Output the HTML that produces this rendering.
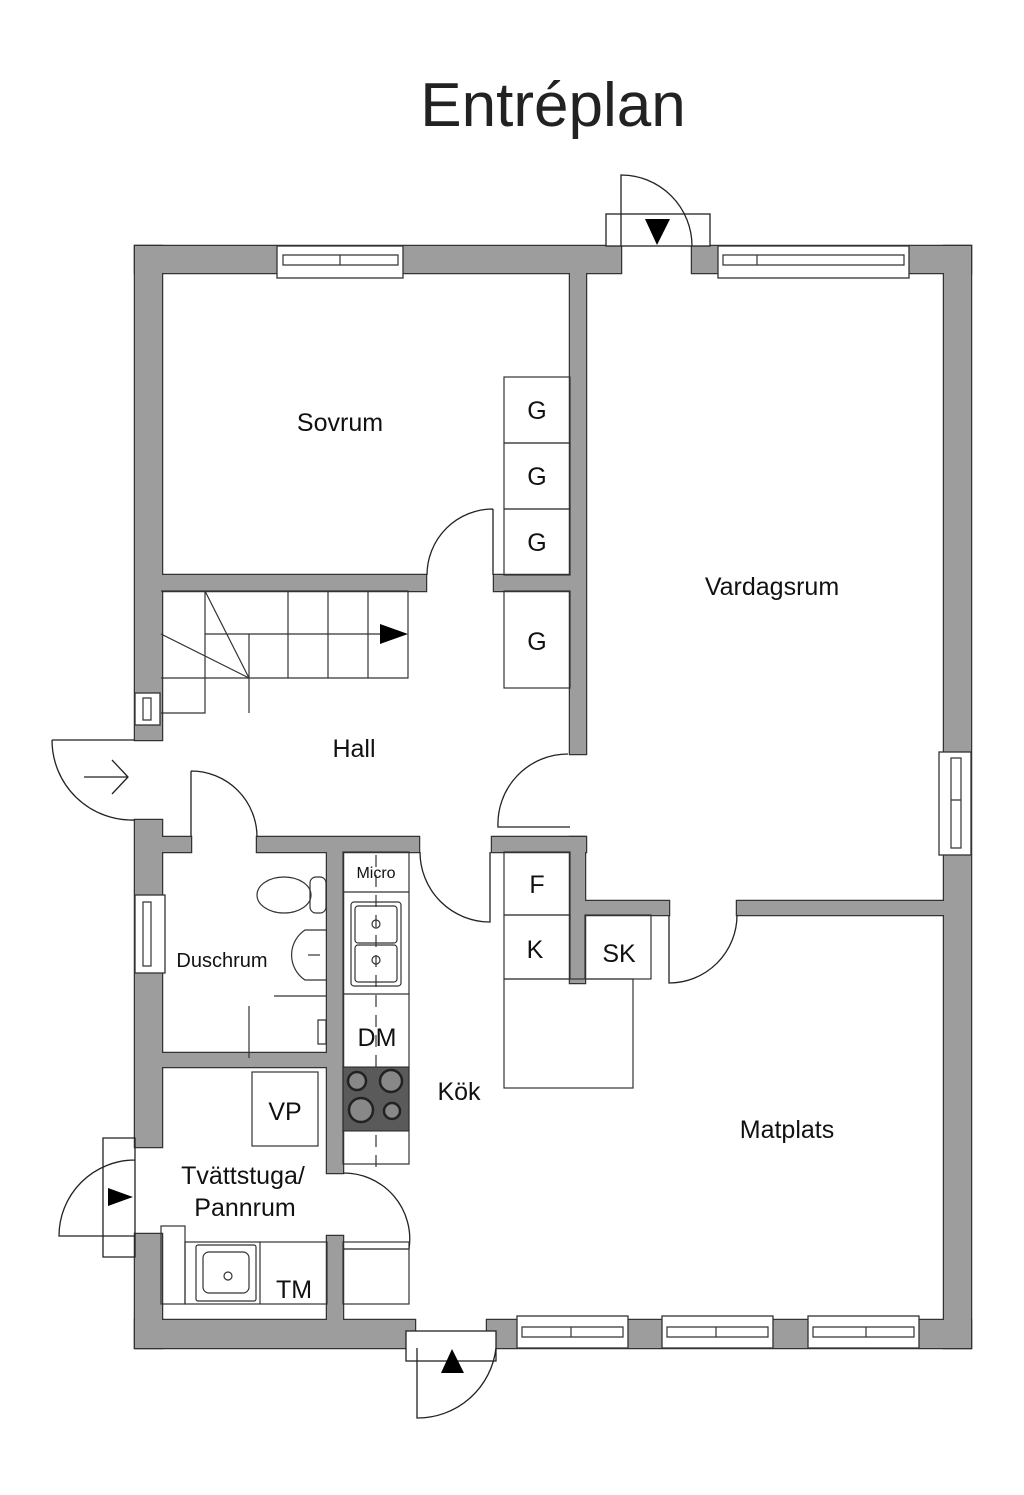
<!DOCTYPE html>
<html><head><meta charset="utf-8"><style>
html,body{margin:0;padding:0;background:#fff;}
svg{display:block;}
text{font-family:"Liberation Sans",sans-serif;fill:#111;}
</style></head><body>
<svg width="1024" height="1495" viewBox="0 0 1024 1495" xmlns="http://www.w3.org/2000/svg">
<defs>
<g id="walls">
<rect x="135" y="246" width="486" height="27"/>
<rect x="692" y="246" width="279" height="27"/>
<rect x="135" y="246" width="27" height="494"/>
<rect x="135" y="820" width="27" height="327"/>
<rect x="135" y="1234" width="27" height="114"/>
<rect x="944" y="246" width="27" height="1102"/>
<rect x="135" y="1320" width="280" height="28"/>
<rect x="487" y="1320" width="484" height="28"/>
<rect x="161" y="575" width="265" height="16"/>
<rect x="494" y="575" width="76" height="16"/>
<rect x="570" y="272" width="16" height="482"/>
<rect x="492" y="837" width="94" height="15"/>
<rect x="570" y="837" width="15" height="146"/>
<rect x="585" y="901" width="84" height="14"/>
<rect x="737" y="901" width="207" height="14"/>
<rect x="161" y="837" width="30" height="15"/>
<rect x="257" y="837" width="162" height="15"/>
<rect x="327" y="850" width="16" height="323"/>
<rect x="161" y="1053" width="166" height="14"/>
<rect x="327" y="1236" width="16" height="84"/>
</g>
</defs>
<text x="553" y="126" font-size="62" text-anchor="middle" style="fill:#222">Entréplan</text>
<use href="#walls" fill="#9d9d9d" stroke="#333" stroke-width="2.5"/>
<use href="#walls" fill="#9d9d9d" stroke="none"/>
<!-- windows -->
<g fill="#fff" stroke="#333" stroke-width="1.3">
<rect x="277" y="246" width="126" height="32"/>
<rect x="718" y="246" width="191" height="32"/>
<rect x="517" y="1316" width="111" height="32"/>
<rect x="662" y="1316" width="111" height="32"/>
<rect x="808" y="1316" width="111" height="32"/>
<rect x="135" y="693" width="25" height="32"/>
<rect x="135" y="895" width="30" height="78"/>
<rect x="939" y="752" width="32" height="103"/>
</g>
<g fill="none" stroke="#333" stroke-width="1.2">
<path d="M283 255h115v10h-115z M340 255v10"/>
<path d="M723 255h181v10h-181z M757 255v10"/>
<path d="M522 1327h101v10h-101z M571 1327v10"/>
<path d="M667 1327h101v10h-101z M716 1327v10"/>
<path d="M813 1327h101v10h-101z M866 1327v10"/>
<path d="M143 698v22h8v-22z"/>
<path d="M143 902v64h8v-64z"/>
<path d="M951 758v90h10v-90z M951 800h10"/>
</g>
<!-- doors -->
<g fill="none" stroke="#222" stroke-width="1.3">
<rect x="606" y="214" width="104" height="32" fill="#fff"/>
<path d="M621 246V175 A71 71 0 0 1 692 246"/>
<path d="M52 740 H135 M52 740 A80 80 0 0 0 135 820"/>
<path d="M103 1138 H135 V1257 H103 Z M135 1160 A76 76 0 0 0 59 1236 H135"/>
<rect x="406" y="1331" width="90" height="30" fill="#fff"/>
<path d="M417 1348 V1418 A79 79 0 0 0 496 1348"/>
<path d="M493 509 V575 M493 509 A66 66 0 0 0 427 575"/>
<path d="M568 754 A70 70 0 0 0 498 827 H570"/>
<path d="M191 771 V837 M191 771 A66 66 0 0 1 257 837"/>
<path d="M420 852 A70 70 0 0 0 490 922 V852"/>
<path d="M343 1173 A66 66 0 0 1 409 1249 H343"/>
<path d="M737 915 A68 68 0 0 1 669 983 V915"/>
<path d="M84 777 H128 M112 760 L128 777 L112 794"/>
</g>
<g fill="#000">
<path d="M645 219 H670 L657 245 Z"/>
<path d="M108 1188 V1206 L133 1197 Z"/>
<path d="M441 1373 H464 L452 1349 Z"/>
<path d="M380 624 V644 L408 634 Z"/>
</g>
<!-- fixtures -->
<g fill="none" stroke="#333" stroke-width="1.2">
<rect x="504" y="377" width="66" height="66"/>
<rect x="504" y="443" width="66" height="66"/>
<rect x="504" y="509" width="66" height="66"/>
<rect x="504" y="591" width="66" height="97"/>
<rect x="504" y="852" width="66" height="63"/>
<rect x="504" y="915" width="66" height="64"/>
<rect x="585" y="915" width="66" height="64"/>
<rect x="504" y="979" width="129" height="109"/>
<path d="M161 591 H408 V678 H161 M205 591 V713 H161 M249 634 V713 M288 591 V678 M328 591 V678 M368 591 V678 M205 634 H380 M249 678 L205 591 M249 678 L161 634"/>
<rect x="343" y="852" width="66" height="312"/>
<path d="M343 892 H409 M343 994 H409 M343 1121 H409"/>
<path d="M376 855 V1175" stroke-dasharray="12 8"/>
<rect x="351" y="902" width="50" height="84" rx="3"/>
<rect x="355" y="906" width="42" height="37" rx="3"/>
<rect x="355" y="945" width="42" height="37" rx="3"/>
<circle cx="376" cy="924" r="4"/><circle cx="376" cy="960" r="4"/>
<rect x="252" y="1072" width="66" height="74"/>
<rect x="161" y="1226" width="24" height="78"/>
<rect x="185" y="1242" width="142" height="62"/>
<path d="M260 1242 V1304"/>
<rect x="196" y="1245" width="60" height="56" rx="2"/>
<rect x="203" y="1252" width="46" height="41" rx="6"/>
<circle cx="228" cy="1276" r="4"/>
<rect x="343" y="1242" width="66" height="62"/>
<ellipse cx="284" cy="895" rx="27" ry="18"/>
<rect x="310" y="877" width="16" height="36" rx="6"/>
<path d="M326 930 H305 A30 30 0 0 0 305 980 H326"/>
<path d="M308 955 H320"/>
<path d="M274 996 H326 M249 1006 V1058"/>
<path d="M318 1020 h8 v24 h-8 z"/>
</g>
<rect x="343" y="1067" width="66" height="64" fill="#5a5a5a" stroke="#222"/>
<g fill="#888" stroke="#222" stroke-width="2.5">
<circle cx="357" cy="1081" r="9"/><circle cx="391" cy="1081" r="11"/>
<circle cx="361" cy="1110" r="12"/><circle cx="392" cy="1111" r="8"/>
</g>
<!-- labels -->
<g font-size="25" text-anchor="middle">
<text x="340" y="431">Sovrum</text>
<text x="772" y="595">Vardagsrum</text>
<text x="354" y="757">Hall</text>
<text x="459" y="1100">Kök</text>
<text x="787" y="1138">Matplats</text>
<text x="243" y="1184">Tvättstuga/</text>
<text x="245" y="1216">Pannrum</text>
<text x="537" y="419">G</text><text x="537" y="485">G</text><text x="537" y="551">G</text><text x="537" y="650">G</text>
<text x="537" y="893">F</text><text x="535" y="958">K</text><text x="619" y="962">SK</text>
<text x="377" y="1046">DM</text>
<text x="285" y="1120">VP</text>
<text x="294" y="1298">TM</text>
</g>
<text x="222" y="967" font-size="20" text-anchor="middle">Duschrum</text>
<text x="376" y="878" font-size="16" text-anchor="middle">Micro</text>
</svg>
</body></html>
